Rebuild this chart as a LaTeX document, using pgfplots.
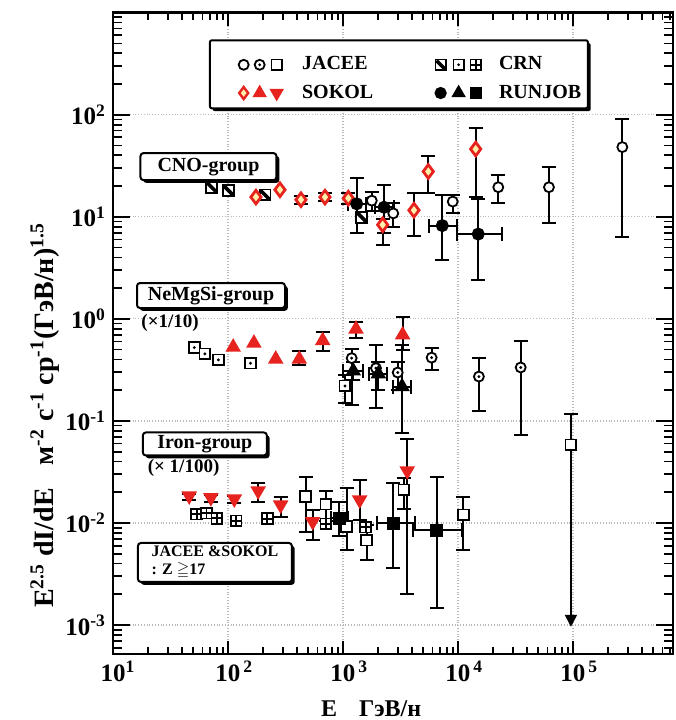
\documentclass[border=0pt]{standalone}
\usepackage{fontspec}
\setmainfont{Liberation Serif}
\usepackage{amssymb}
\usepackage{pgfplots}
\usepackage{pgfplotstable}
\pgfplotsset{compat=1.18}
\usetikzlibrary{shadows,arrows.meta}

\definecolor{sokol}{RGB}{230,35,30}
\definecolor{sokolin}{RGB}{255,240,170}

% circle with a central dot
\pgfdeclareplotmark{odot}{%
  \pgfpathcircle{\pgfpointorigin}{\pgfplotmarksize}\pgfusepathqfillstroke
  \pgfscope\pgfsetfillcolor{black}%
  \pgfpathcircle{\pgfpointorigin}{0.32\pgfplotmarksize}\pgfusepathqfill\endpgfscope}
% square with a central dot
\pgfdeclareplotmark{sqdot}{%
  \pgfpathrectangle{\pgfpoint{-\pgfplotmarksize}{-\pgfplotmarksize}}{\pgfpoint{2\pgfplotmarksize}{2\pgfplotmarksize}}\pgfusepathqfillstroke
  \pgfscope\pgfsetfillcolor{black}%
  \pgfpathcircle{\pgfpointorigin}{0.3\pgfplotmarksize}\pgfusepathqfill\endpgfscope}
% square split in four
\pgfdeclareplotmark{sqplus}{%
  \pgfpathrectangle{\pgfpoint{-\pgfplotmarksize}{-\pgfplotmarksize}}{\pgfpoint{2\pgfplotmarksize}{2\pgfplotmarksize}}\pgfusepathqfillstroke
  \pgfpathmoveto{\pgfpoint{-\pgfplotmarksize}{0pt}}\pgfpathlineto{\pgfpoint{\pgfplotmarksize}{0pt}}%
  \pgfpathmoveto{\pgfpoint{0pt}{-\pgfplotmarksize}}\pgfpathlineto{\pgfpoint{0pt}{\pgfplotmarksize}}%
  \pgfusepathqstroke}
% square crossed by a heavy diagonal
\pgfdeclareplotmark{sqdiag}{%
  \pgfpathrectangle{\pgfpoint{-\pgfplotmarksize}{-\pgfplotmarksize}}{\pgfpoint{2\pgfplotmarksize}{2\pgfplotmarksize}}\pgfusepathqfillstroke
  \pgfscope\pgfsetlinewidth{1.8pt}%
  \pgfpathmoveto{\pgfpoint{-0.8\pgfplotmarksize}{0.8\pgfplotmarksize}}\pgfpathlineto{\pgfpoint{0.8\pgfplotmarksize}{-0.8\pgfplotmarksize}}%
  \pgfusepathqstroke\endpgfscope}

\tikzset{
  shadowed/.style={general shadow={fill=black, shadow xshift=1.4pt, shadow yshift=-1.4pt}},
  lbl/.style={draw=black, line width=1pt, fill=white, rounded corners=1.5pt,
    font=\fontsize{10}{11}\selectfont\bfseries, inner sep=0pt, shadowed},
}
\pgfplotsset{
  yerr/.style={error bars/y dir=both, error bars/y explicit,
    error bars/error bar style={black, line width=1pt, solid},
    error bars/error mark options={rotate=90, black, line width=1pt, mark size=3.5pt}},
  xerr/.style={error bars/x dir=both, error bars/x explicit},
  pt/.style={only marks, forget plot, line width=0.9pt},
  jaceeC/.style={pt, black, mark=*, mark size=2.5pt, mark options={fill=white}},
  jaceeN/.style={pt, black, mark=odot, mark size=2.5pt, mark options={fill=white}},
  jaceeF/.style={pt, black, mark=square*, mark size=2.7pt, mark options={fill=white}},
  sokolC/.style={pt, mark=diamond*, mark size=3.4pt, mark options={fill=sokolin, draw=sokol, line width=1.4pt}},
  sokolN/.style={pt, mark=triangle*, mark size=3.6pt, mark options={fill=sokol, draw=sokol}},
  sokolF/.style={pt, mark=triangle*, mark size=3.6pt, mark options={fill=sokol, draw=sokol, rotate=180}},
  crnC/.style={pt, black, mark=sqdiag, mark size=2.7pt, mark options={fill=white}},
  crnN/.style={pt, black, mark=sqdot, mark size=2.7pt, mark options={fill=white}},
  crnF/.style={pt, black, mark=sqplus, mark size=2.7pt, mark options={fill=white}},
  runC/.style={pt, black, mark=*, mark size=2.8pt},
  runN/.style={pt, black, mark=triangle*, mark size=3.6pt},
  runF/.style={pt, black, mark=square*, mark size=2.8pt},
}

% ---------------- CNO group ----------------
\pgfplotstableread{
E F ep em
1780 14.4 3.1 2.9
2735 10.8 2.9 2.8
9000 14.1 2.4 3.2
22400 19.5 6.3 5.7
61800 19.5 11.6 10.8
268600 48.2 43.2 41.9
}\cnoJacee
\pgfplotstableread{
E F
175 15.6
283 18.4
}\cnoSokolA
\pgfplotstableread{
E F ep em
431 14.7 1.4 1.3
697 15.6 1.5 1.4
1112 15.2 1.8 1.7
2213 8.35 1.2 3.05
4140 11.6 5.5 5.1
5520 27.8 11.8 10.5
14250 46.1 27.9 30.3
}\cnoSokolB
\pgfplotstableread{
E F
72 19.5
101 18.1
210 16.4
1455 9.9
}\cnoCrn
\pgfplotstableread{
E F ep em xp xm
1316 13.4 10.5 6.5 264 216
2275 12.4 8.2 5.4 475 375
7300 8.2 8.3 4.4 2560 1680
15000 6.77 8.13 4.37 9000 5140
}\cnoRunjob

% ---------------- NeMgSi group (x 1/10) ----------------
\pgfplotstableread{
E F
51 0.524
63 0.454
82.4 0.396
157 0.368
}\neCrnA
\pgfplotstableread{
E F ep em
1040 0.22 0.062 0.069
}\neCrnB
\pgfplotstableread{
E F
111 0.528
168 0.578
260 0.403
}\neSokolA
\pgfplotstableread{
E F ep em
417 0.403 0.076 0.049
666 0.612 0.139 0.133
1297 0.794 0.148 0.146
3300 0.697 0.353 0.197
}\neSokolB
\pgfplotstableread{
E F ep em
1190 0.412 0.092 0.268
1935 0.329 0.221 0.196
2990 0.298 0.084 0.098
5900 0.417 0.103 0.102
15200 0.272 0.140 0.146
35100 0.334 0.266 0.261
}\neJacee
\pgfplotstableread{
E F ep em xp xm
1228 0.309 0.071 0.059 272 228
2030 0.289 0.091 0.089 370 330
3260 0.217 0.333 0.141 640 560
}\neRunjob

% ---------------- Iron group (x 1/100) ----------------
\pgfplotstableread{
E F ep em
46 0.0184 0.0010 0.0016
71 0.0177 0.0010 0.0016
113.5 0.0172 0.0010 0.0016
183 0.0206 0.0039 0.0044
287 0.0150 0.0031 0.0036
545 0.0103 0.0031 0.0035
1396 0.0168 0.0096 0.0061
3620 0.0324 0.0338 0.0304
}\feSokol
\pgfplotstableread{
E F
53.5 0.0122
65 0.0125
80 0.0111
117.5 0.0105
220 0.0110
711 0.0098
1575 0.0091
}\feCrn
\pgfplotstableread{
E F ep em
473 0.0181 0.0100 0.0099
711 0.0153 0.0053 0.0048
1076 0.0092 0.0127 0.0038
1607 0.0068 0.0027 0.0025
3390 0.0211 0.0064 0.0073
11100 0.0120 0.0061 0.0066
}\feJacee
\pgfplotstableread{
E F ep em xp xm
929 0.0111 0.0049 0.0036 171 149
2735 0.0099 0.0146 0.0063 1495 772
6530 0.0085 0.0199 0.00704 4240 2450
}\feRunjob

\begin{document}
\begin{tikzpicture}
\begin{axis}[
  xmode=log, ymode=log,
  scale only axis, width=280pt, height=320.65pt,
  xmin=10, xmax=7.41e5, ymin=5.2e-4, ymax=1000,
  clip=false,
  xtick={10,100,1000,10000,100000},
  xticklabels={10\rlap{\textsuperscript{1}},10\rlap{\textsuperscript{\,2}},10\rlap{\textsuperscript{\,3}},10\rlap{\textsuperscript{\,4}},10\rlap{\textsuperscript{\,5}}},
  ytick={0.001,0.01,0.1,1,10,100},
  yticklabels={10\textsuperscript{-3},10\textsuperscript{-2},10\textsuperscript{-1},10\textsuperscript{0},10\textsuperscript{1},10\textsuperscript{2}},
  minor xtick={20,30,40,50,60,70,80,90,200,300,400,500,600,700,800,900,2000,3000,4000,5000,6000,7000,8000,9000,20000,30000,40000,50000,60000,70000,80000,90000,200000,300000,400000,500000,600000,700000},
  minor ytick={0.0006,0.0007,0.0008,0.0009,0.002,0.003,0.004,0.005,0.006,0.007,0.008,0.009,0.02,0.03,0.04,0.05,0.06,0.07,0.08,0.09,0.2,0.3,0.4,0.5,0.6,0.7,0.8,0.9,2,3,4,5,6,7,8,9,20,30,40,50,60,70,80,90,200,300,400,500,600,700,800,900},
  tick align=inside,
  major tick length=6.5pt, minor tick length=3.5pt,
  tick style={black, line width=0.9pt},
  ytick style={/pgfplots/major tick length=8.5pt, /pgfplots/minor tick length=4.5pt},
  axis line style={line width=1.4pt},
  grid=major,
  major grid style={densely dotted, gray!55, line width=0.6pt},
  tick label style={font=\fontsize{12.5}{14}\selectfont\bfseries},
  legend columns=2,
  legend cell align=left,
  legend style={at={(0.173,0.957)}, anchor=north west, draw=none, fill=none,
    font=\fontsize{10}{12}\selectfont\bfseries,
    inner xsep=4pt, inner ysep=6pt, row sep=2pt,
    /tikz/column 2/.style={column sep=19pt}},
]

% CNO
\addplot[crnC] table[x=E,y=F] {\cnoCrn};
\addplot[sokolC] table[x=E,y=F] {\cnoSokolA};
\addplot[sokolC, yerr] table[x=E,y=F,y error plus=ep,y error minus=em] {\cnoSokolB};
\addplot[jaceeC, yerr] table[x=E,y=F,y error plus=ep,y error minus=em] {\cnoJacee};
\addplot[runC, yerr, xerr] table[x=E,y=F,y error plus=ep,y error minus=em,x error plus=xp,x error minus=xm] {\cnoRunjob};

% NeMgSi
\addplot[crnN] table[x=E,y=F] {\neCrnA};
\addplot[crnN, yerr] table[x=E,y=F,y error plus=ep,y error minus=em] {\neCrnB};
\addplot[sokolN] table[x=E,y=F] {\neSokolA};
\addplot[sokolN, yerr] table[x=E,y=F,y error plus=ep,y error minus=em] {\neSokolB};
\addplot[jaceeN, yerr] table[x=E,y=F,y error plus=ep,y error minus=em] {\neJacee};
\addplot[runN, yerr, xerr] table[x=E,y=F,y error plus=ep,y error minus=em,x error plus=xp,x error minus=xm] {\neRunjob};

% Iron
\addplot[crnF] table[x=E,y=F] {\feCrn};
\addplot[sokolF, yerr] table[x=E,y=F,y error plus=ep,y error minus=em] {\feSokol};
\addplot[jaceeF, yerr] table[x=E,y=F,y error plus=ep,y error minus=em] {\feJacee};
\addplot[runF, yerr, xerr] table[x=E,y=F,y error plus=ep,y error minus=em,x error plus=xp,x error minus=xm] {\feRunjob};

% upper limit at 1e5 GeV/n
\addplot[black, line width=1pt, forget plot, -{Triangle[width=6pt,length=6pt]}] coordinates {(96000,0.0582) (96000,0.00096)};
\addplot[jaceeF, error bars/y dir=plus, error bars/y explicit,
  error bars/error bar style={black, line width=1pt},
  error bars/error mark options={rotate=90, black, line width=1pt, mark size=3.5pt}]
  coordinates {(96000,0.0582) +- (0,0.0588)};

% frame behind the legend
\draw[line width=1pt, fill=white, rounded corners=1pt, shadowed]
  (rel axis cs:0.173,0.957) rectangle (rel axis cs:0.848,0.851);

% legend
\addlegendimage{legend image code/.code={
  \path (0pt,-4pt) (39.5pt,4pt);
  \draw[black, line width=0.9pt] plot[mark=*, mark size=2.5pt, mark options={fill=white}] coordinates {(12.5pt,0pt)};
  \draw[black, line width=0.9pt] plot[mark=odot, mark size=2.5pt, mark options={fill=white}] coordinates {(20.5pt,0pt)};
  \draw[black, line width=0.9pt] plot[mark=square*, mark size=2.6pt, mark options={fill=white}] coordinates {(29pt,0pt)};
}}
\addlegendentry{JACEE}
\addlegendimage{legend image code/.code={
  \path (0pt,-4pt) (39.5pt,4pt);
  \draw[black, line width=0.9pt] plot[mark=sqdiag, mark size=2.6pt, mark options={fill=white}] coordinates {(12.5pt,0pt)};
  \draw[black, line width=0.9pt] plot[mark=sqdot, mark size=2.6pt, mark options={fill=white}] coordinates {(21.5pt,0pt)};
  \draw[black, line width=0.9pt] plot[mark=sqplus, mark size=2.6pt, mark options={fill=white}] coordinates {(30pt,0pt)};
}}
\addlegendentry{CRN}
\addlegendimage{legend image code/.code={
  \path (0pt,-4pt) (39.5pt,4pt);
  \draw[sokol, line width=1.2pt] plot[mark=diamond*, mark size=3pt, mark options={fill=sokolin}] coordinates {(12.5pt,0pt)};
  \draw[sokol, line width=0.9pt] plot[mark=triangle*, mark size=3.3pt, mark options={fill=sokol}] coordinates {(20.5pt,0pt)};
  \draw[sokol, line width=0.9pt] plot[mark=triangle*, mark size=3.3pt, mark options={fill=sokol, rotate=180}] coordinates {(29pt,0pt)};
}}
\addlegendentry{SOKOL}
\addlegendimage{legend image code/.code={
  \path (0pt,-4pt) (39.5pt,4pt);
  \draw[black, line width=0.9pt] plot[mark=*, mark size=2.6pt] coordinates {(12.5pt,0pt)};
  \draw[black, line width=0.9pt] plot[mark=triangle*, mark size=3.3pt] coordinates {(21.5pt,0pt)};
  \draw[black, line width=0.9pt] plot[mark=square*, mark size=2.6pt] coordinates {(30pt,0pt)};
}}
\addlegendentry{RUNJOB}

% group captions
\node[lbl, minimum width=68pt, minimum height=13.5pt] at (rel axis cs:0.1705,0.760) {CNO-group};
\node[lbl, minimum width=74pt, minimum height=12.5pt] at (rel axis cs:0.175,0.559) {NeMgSi-group};
\node[font=\fontsize{9.5}{11}\selectfont\bfseries] at (rel axis cs:0.102,0.516) {(×1/10)};
\node[lbl, minimum width=62pt, minimum height=11.5pt] at (rel axis cs:0.164,0.3275) {Iron-group};
\node[font=\fontsize{9.5}{11}\selectfont\bfseries] at (rel axis cs:0.126,0.290) {(× 1/100)};
\node[lbl, minimum width=77pt, minimum height=19.5pt, align=left, inner xsep=3pt,
  font=\fontsize{8}{9}\selectfont\bfseries] at (rel axis cs:0.182,0.1427)
  {JACEE \&SOKOL\\: Z $\geqq$17\hspace{22pt}};

% axis titles
\node[rotate=90, font=\fontsize{14}{16}\selectfont\bfseries] at ([xshift=-34pt]rel axis cs:0,0.372)
  {E\textsuperscript{2.5} dI/dE\hspace{8pt} м\textsuperscript{-2} с\textsuperscript{-1} ср\textsuperscript{-1}(ГэВ/н)\textsuperscript{1.5}};
\node[font=\fontsize{12}{14}\selectfont\bfseries] at ([yshift=-27.5pt]rel axis cs:0.461,0) {E\hspace{11pt}ГэВ/н};
\end{axis}
\pgfresetboundingbox
\path[use as bounding box] ([xshift=-56.5pt,yshift=-33pt]current axis.south west)
  rectangle ([xshift=1pt,yshift=6.35pt]current axis.north east);
\end{tikzpicture}
\end{document}
